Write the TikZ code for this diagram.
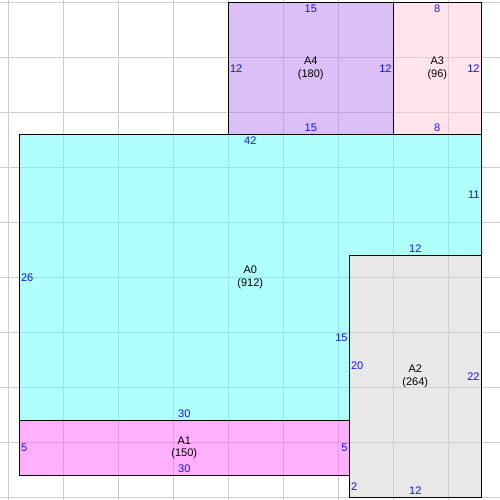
\documentclass[tikz,border=0pt]{standalone}
\usepackage{fontspec}
\setmainfont{Liberation Sans}
\definecolor{zonecyan}{RGB}{97,255,255}
\definecolor{zonemagenta}{RGB}{255,97,255}
\definecolor{zonegrey}{RGB}{209,209,209}
\definecolor{zonepink}{RGB}{255,201,217}
\definecolor{zonelilac}{RGB}{181,129,237}
\definecolor{gridgrey}{RGB}{205,205,205}
\definecolor{dimblue}{RGB}{20,20,255}
\tikzset{
  gridline/.style={gridgrey, line width=1pt},
  zonefill/.style={fill opacity=0.5},
  zone/.style={draw=black, line width=1pt},
  dimtxt/.style={text=dimblue, font=\fontsize{11}{12}\selectfont, inner xsep=1.5pt, inner ysep=2.8pt},
  zonename/.style={align=center, font=\fontsize{11}{12.5}\selectfont}
}

\begin{document}
\begin{tikzpicture}[x=11pt, y=11pt]
\useasboundingbox (-1.755,-0.245) rectangle (43.7,45.21);
\clip (-1.755,-0.245) rectangle (43.7,45.21);
% grid
\foreach \x in {-1,4,...,44}
\draw[gridline] (\x,-1) -- (\x,46);
\foreach \y in {0,5,...,45}
\draw[gridline] (-2,\y) -- (44,\y);
% fills
\fill[zonefill, zonecyan] (0,7) -- (30,7) -- (30,22) -- (42,22) -- (42,33) -- (0,33) -- cycle;
\fill[zonefill, zonemagenta] (0,2) rectangle (30,7);
\fill[zonefill, zonegrey] (30,0) rectangle (42,22);
\fill[zonefill, zonepink] (34,33) rectangle (42,45);
\fill[zonefill, zonelilac] (19,33) rectangle (34,45);
% outlines
\draw[zone] (0,7) -- (30,7) -- (30,22) -- (42,22) -- (42,33) -- (0,33) -- cycle;
\draw[zone] (0,2) rectangle (30,7);
\draw[zone] (30,0) rectangle (42,22);
\draw[zone] (34,33) rectangle (42,45);
\draw[zone] (19,33) rectangle (34,45);
% A0
\node[zonename] (a0) at (21,20) {A0\\(912)};
\node[dimtxt, below] (a0top) at (21,33) {42};
\node[dimtxt, left] (a0right) at (42,27.5) {11};
\node[dimtxt, above] (a0step) at (36,22) {12};
\node[dimtxt, right] (a0left) at (0,20) {26};
\node[dimtxt, left] (a0inner) at (30,14.5) {15};
\node[dimtxt, above] (a0bottom) at (15,7) {30};
% A1
\node[zonename] (a1) at (15,4.5) {A1\\(150)};
\node[dimtxt, right] (a1left) at (0,4.5) {5};
\node[dimtxt, left] (a1right) at (30,4.5) {5};
\node[dimtxt, above] (a1bottom) at (15,2) {30};
% A2
\node[zonename] (a2) at (36,11) {A2\\(264)};
\node[dimtxt, right] (a2left) at (30,12) {20};
\node[dimtxt, right] (a2low) at (30,1) {2};
\node[dimtxt, left] (a2right) at (42,11) {22};
\node[dimtxt, above] (a2bottom) at (36,0) {12};
% A3
\node[zonename] (a3) at (38,39) {A3\\(96)};
\node[dimtxt, below] (a3top) at (38,45) {8};
\node[dimtxt, above] (a3bottom) at (38,33) {8};
\node[dimtxt, left] (a3right) at (42,39) {12};
% A4
\node[zonename] (a4) at (26.5,39) {A4\\(180)};
\node[dimtxt, below] (a4top) at (26.5,45) {15};
\node[dimtxt, above] (a4bottom) at (26.5,33) {15};
\node[dimtxt, right] (a4left) at (19,39) {12};
\node[dimtxt, left] (a4right) at (34,39) {12};
\end{tikzpicture}
\end{document}
